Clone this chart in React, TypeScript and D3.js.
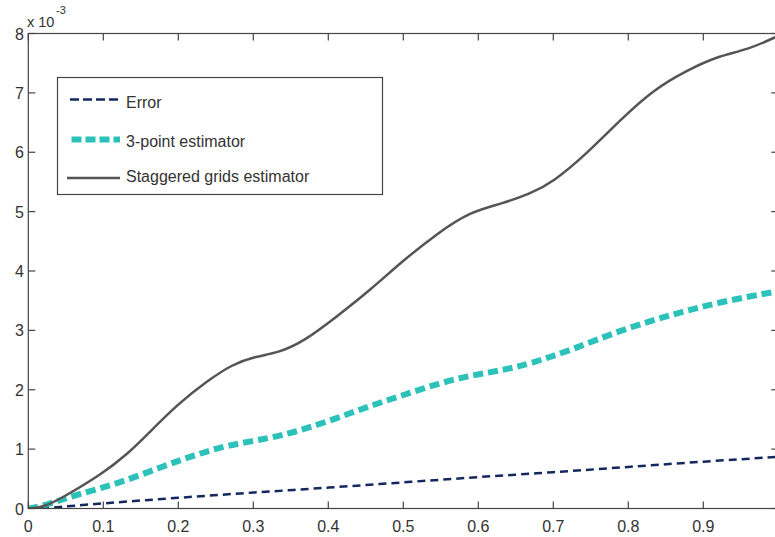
import React from "react";
import * as d3 from "d3";

const errX = [0, 0.02, 0.1, 0.2, 0.3, 0.4, 0.5, 0.6, 0.7, 0.8, 0.9, 1.0];
const errY = [0, 0.0, 0.09, 0.18, 0.27, 0.35, 0.44, 0.53, 0.61, 0.7, 0.79, 0.87];

const cyanX = [0, 0.02, 0.066, 0.12, 0.177, 0.222, 0.266, 0.322, 0.367, 0.411, 0.456, 0.5, 0.545, 0.589, 0.633, 0.669, 0.722, 0.789, 0.856, 0.922, 1.0];
const cyanY = [0, 0.04, 0.24, 0.42, 0.7, 0.9, 1.07, 1.18, 1.33, 1.52, 1.73, 1.91, 2.1, 2.24, 2.33, 2.44, 2.66, 3.0, 3.26, 3.48, 3.66];

const stagX = [0, 0.02, 0.044, 0.0996, 0.133, 0.155, 0.2, 0.24, 0.271, 0.302, 0.333, 0.367, 0.411, 0.456, 0.5, 0.545, 0.589, 0.633, 0.669, 0.7, 0.745, 0.789, 0.833, 0.878, 0.922, 0.958, 1.0];
const stagY = [0, 0.02, 0.17, 0.59, 0.93, 1.2, 1.77, 2.16, 2.42, 2.56, 2.62, 2.81, 3.23, 3.68, 4.18, 4.63, 5.0, 5.14, 5.3, 5.5, 5.98, 6.54, 7.05, 7.38, 7.63, 7.72, 7.96];

const xTicks = [0, 0.1, 0.2, 0.3, 0.4, 0.5, 0.6, 0.7, 0.8, 0.9, 1];
const xTickLabels = ["0", "0.1", "0.2", "0.3", "0.4", "0.5", "0.6", "0.7", "0.8", "0.9", ""];
const yTicks = [0, 1, 2, 3, 4, 5, 6, 7, 8];
const legendLabels = ["Error", "3-point estimator", "Staggered grids estimator"];

const W = 775;
const H = 537;
const FONT = "'Liberation Sans', Arial, sans-serif";

export default function App() {
  const x = d3.scaleLinear().domain([0, 1]).range([28.3, 778.3]);
  const y = d3.scaleLinear().domain([0, 8]).range([508.5, 33.5]);
  const line = d3
    .line<[number, number]>()
    .x((d) => x(d[0]))
    .y((d) => y(d[1]))
    .curve(d3.curveBasis);

  const errPath = line(errX.map((v, i) => [v, errY[i]]));
  const cyanPath = line(cyanX.map((v, i) => [v, cyanY[i]]));
  const stagPath = line(stagX.map((v, i) => [v, stagY[i]]));

  const x0 = x(0);
  const x1 = x(1);
  const yb = y(0);
  const yt = y(8);
  const axisColor = "#444";
  const textColor = "#333";

  const legendStyles = [
    { stroke: "#14285e", width: 2.5, dash: "9,4" },
    { stroke: "#2cc2ba", width: 6, dash: "10,4" },
    { stroke: "#555", width: 2.5, dash: "none" },
  ];
  const legendLineY = [99.5, 139.5, 178];
  const legendTextY = [108, 147, 182];
  const legendLineX0 = [70, 71.5, 67];

  return (
    <div style={{ position: "absolute", left: 0, top: 0 }}>
      <svg width={W} height={H} style={{ display: "block", background: "#fff" }}>
        <rect x={0} y={0} width={W} height={H} fill="#fff" />
        <defs>
          <clipPath id="plotclip">
            <rect x={x0} y={yt} width={x1 - x0} height={yb - yt} />
          </clipPath>
        </defs>
        <g clipPath="url(#plotclip)">
          <path d={errPath || ""} fill="none" stroke="#14285e" strokeWidth={2.5} strokeDasharray="8,5" />
          <path d={cyanPath || ""} fill="none" stroke="#2cc2ba" strokeWidth={6} strokeDasharray="10,5" />
          <path d={stagPath || ""} fill="none" stroke="#555" strokeWidth={2.5} />
        </g>
        <rect x={x0} y={yt} width={x1 - x0} height={yb - yt} fill="none" stroke={axisColor} strokeWidth={1.2} />
        {xTicks.map((t, i) => (
          <g key={"xt" + t}>
            <line x1={x(t)} x2={x(t)} y1={yb} y2={yb - 7} stroke={axisColor} strokeWidth={1.2} />
            <line x1={x(t)} x2={x(t)} y1={yt} y2={yt + 7} stroke={axisColor} strokeWidth={1.2} />
            <text x={x(t)} y={yb + 23} textAnchor="middle" fontFamily={FONT} fontSize={16} fill={textColor}>
              {xTickLabels[i]}
            </text>
          </g>
        ))}
        {yTicks.map((t) => (
          <g key={"yt" + t}>
            <line x1={x0} x2={x0 + 7} y1={y(t)} y2={y(t)} stroke={axisColor} strokeWidth={1.2} />
            <line x1={x1} x2={x1 - 7} y1={y(t)} y2={y(t)} stroke={axisColor} strokeWidth={1.2} />
            <text x={24} y={y(t) + 6} textAnchor="end" fontFamily={FONT} fontSize={16} fill={textColor}>
              {t}
            </text>
          </g>
        ))}
        <text x={27} y={27} fontFamily={FONT} fontSize={14.5} fill={textColor}>
          x 10
        </text>
        <text x={56} y={14} fontFamily={FONT} fontSize={11} fill={textColor}>
          -3
        </text>
        <rect x={57.5} y={77.5} width={325} height={117} fill="#fff" stroke={axisColor} strokeWidth={1.2} />
        {legendLabels.map((lab, i) => (
          <g key={lab}>
            <line
              x1={legendLineX0[i]}
              x2={120}
              y1={legendLineY[i]}
              y2={legendLineY[i]}
              stroke={legendStyles[i].stroke}
              strokeWidth={legendStyles[i].width}
              strokeDasharray={legendStyles[i].dash}
            />
            <text x={126} y={legendTextY[i]} fontFamily={FONT} fontSize={16} fill={textColor}>
              {lab}
            </text>
          </g>
        ))}
      </svg>
    </div>
  );
}
